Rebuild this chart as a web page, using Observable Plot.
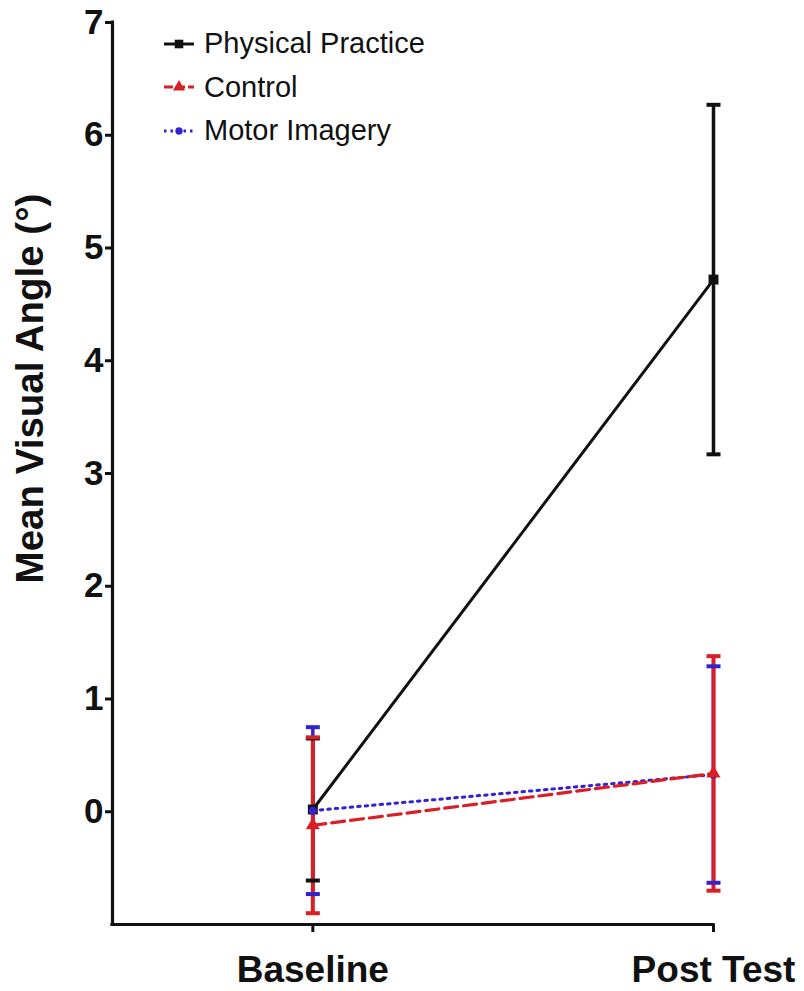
<!DOCTYPE html>
<html><head><meta charset="utf-8">
<script src="https://cdn.jsdelivr.net/npm/d3@7"></script>
<script src="https://cdn.jsdelivr.net/npm/@observablehq/plot@0.6"></script>
<style>
body{margin:0;background:#fff;}
#wrap{position:relative;width:804px;height:991px;}
#legend{position:absolute;left:162px;top:22px;font-family:"Liberation Sans",Arial,sans-serif;font-size:29px;color:#111;}
.row{display:flex;align-items:center;height:43.5px;white-space:nowrap;}
.row svg{margin-right:8px;}
</style></head><body><div id="wrap"><div id="legend"></div></div>
<script>
// ---- data ----
const categories = ["Baseline", "Post Test"];
const groups = ["Physical Practice", "Control", "Motor Imagery"];
const physicalMean = [0.02, 4.72];
const physicalErr  = [0.63, 1.55];
const controlMean  = [-0.12, 0.34];
const controlErr   = [0.78, 1.04];
const imageryMean  = [0.01, 0.33];
const imageryErr   = [0.74, 0.96];
const yTicks = [0, 1, 2, 3, 4, 5, 6, 7];
const yLabel = "Mean Visual Angle (°)";

// ---- styles ----
const colors = {"Physical Practice": "#111111", "Control": "#d91f26", "Motor Imagery": "#3322d0"};
const dashes = {"Physical Practice": null, "Control": "13,6", "Motor Imagery": "2.5,5"};
const symbols = {"Physical Practice": "square", "Control": "triangle", "Motor Imagery": "circle"};
const radii = {"Physical Practice": 5.6, "Control": 5.2, "Motor Imagery": 4.2};

const means = [physicalMean, controlMean, imageryMean];
const errs = [physicalErr, controlErr, imageryErr];
const rows = [];
groups.forEach((g, gi) => categories.forEach((c, xi) => rows.push({group: g, xi, cat: c, mean: means[gi][xi], err: errs[gi][xi]})));
const of = g => rows.filter(d => d.group === g);

const capSymbol = {draw(ctx, size) { const w = Math.sqrt(size / Math.PI); ctx.moveTo(-w, 0); ctx.lineTo(w, 0); }};

const lineOrder = ["Physical Practice", "Motor Imagery", "Control"];
const barOrder = ["Physical Practice", "Motor Imagery", "Control"];
const capOrder = ["Physical Practice", "Control", "Motor Imagery"];
const markOrder = ["Physical Practice", "Motor Imagery", "Control"];

const chart = Plot.plot({
  width: 804, height: 991,
  marginLeft: 112, marginRight: 91, marginTop: 22, marginBottom: 67,
  style: {fontFamily: "'Liberation Sans', Arial, sans-serif", background: "white", color: "#111"},
  x: {domain: [-0.5, 1], axis: null},
  y: {domain: [-1, 7], axis: null},
  marks: [
    Plot.axisY({ticks: yTicks, tickSize: 7, tickPadding: 2, tickFormat: d => String(d), fontSize: 35, fontWeight: "bold", label: null, strokeWidth: 3}),
    Plot.axisX({ticks: [0, 1], tickFormat: i => categories[i], tickSize: 8, tickPadding: 23, fontSize: 37, fontWeight: "bold", label: null, strokeWidth: 3}),
    Plot.ruleX([-0.5], {strokeWidth: 3.2, stroke: "#111", strokeLinecap: "square"}),
    Plot.ruleY([-1], {strokeWidth: 3.2, stroke: "#111", strokeLinecap: "square"}),
    Plot.text([yLabel], {frameAnchor: "top-left", dx: -82, dy: 366, rotate: -90, fontSize: 38.5, fontWeight: "bold", fill: "#111", textAnchor: "middle", lineAnchor: "middle"}),
    ...lineOrder.map(g => Plot.line(of(g), {x: "xi", y: "mean", stroke: colors[g], strokeWidth: g === "Control" ? 3.2 : 3, strokeDasharray: dashes[g]})),
    ...barOrder.map(g => Plot.ruleX(of(g), {x: "xi", y1: d => d.mean - d.err, y2: d => d.mean + d.err, stroke: colors[g], strokeWidth: g === "Control" ? 4 : 3.5})),
    ...capOrder.flatMap(g => [
      Plot.dot(of(g), {x: "xi", y: d => d.mean + d.err, symbol: capSymbol, r: 7, stroke: colors[g], strokeWidth: 4, fill: "none"}),
      Plot.dot(of(g), {x: "xi", y: d => d.mean - d.err, symbol: capSymbol, r: 7, stroke: colors[g], strokeWidth: 4, fill: "none"})
    ]),
    ...markOrder.map(g => Plot.dot(of(g), {x: "xi", y: "mean", symbol: symbols[g], r: radii[g], fill: colors[g], stroke: "none"}))
  ]
});
document.getElementById("wrap").prepend(chart);

// legend
const legend = document.getElementById("legend");
groups.forEach(g => {
  const row = document.createElement("div");
  row.className = "row";
  const svg = d3.create("svg").attr("width", 34).attr("height", 20);
  const line = svg.append("line").attr("x1", 2).attr("x2", 32).attr("y1", 10).attr("y2", 10)
    .attr("stroke", colors[g]).attr("stroke-width", 3);
  if (dashes[g]) line.attr("stroke-dasharray", g === "Control" ? "9,3" : "2.5,4");
  const t = {square: d3.symbolSquare, triangle: d3.symbolTriangle, circle: d3.symbolCircle}[symbols[g]];
  svg.append("path").attr("transform", "translate(17,10)").attr("d", d3.symbol(t, Math.PI * radii[g] * radii[g] * 0.75)()).attr("fill", colors[g]);
  row.appendChild(svg.node());
  const span = document.createElement("span");
  span.textContent = g;
  row.appendChild(span);
  legend.appendChild(row);
});
</script></body></html>
